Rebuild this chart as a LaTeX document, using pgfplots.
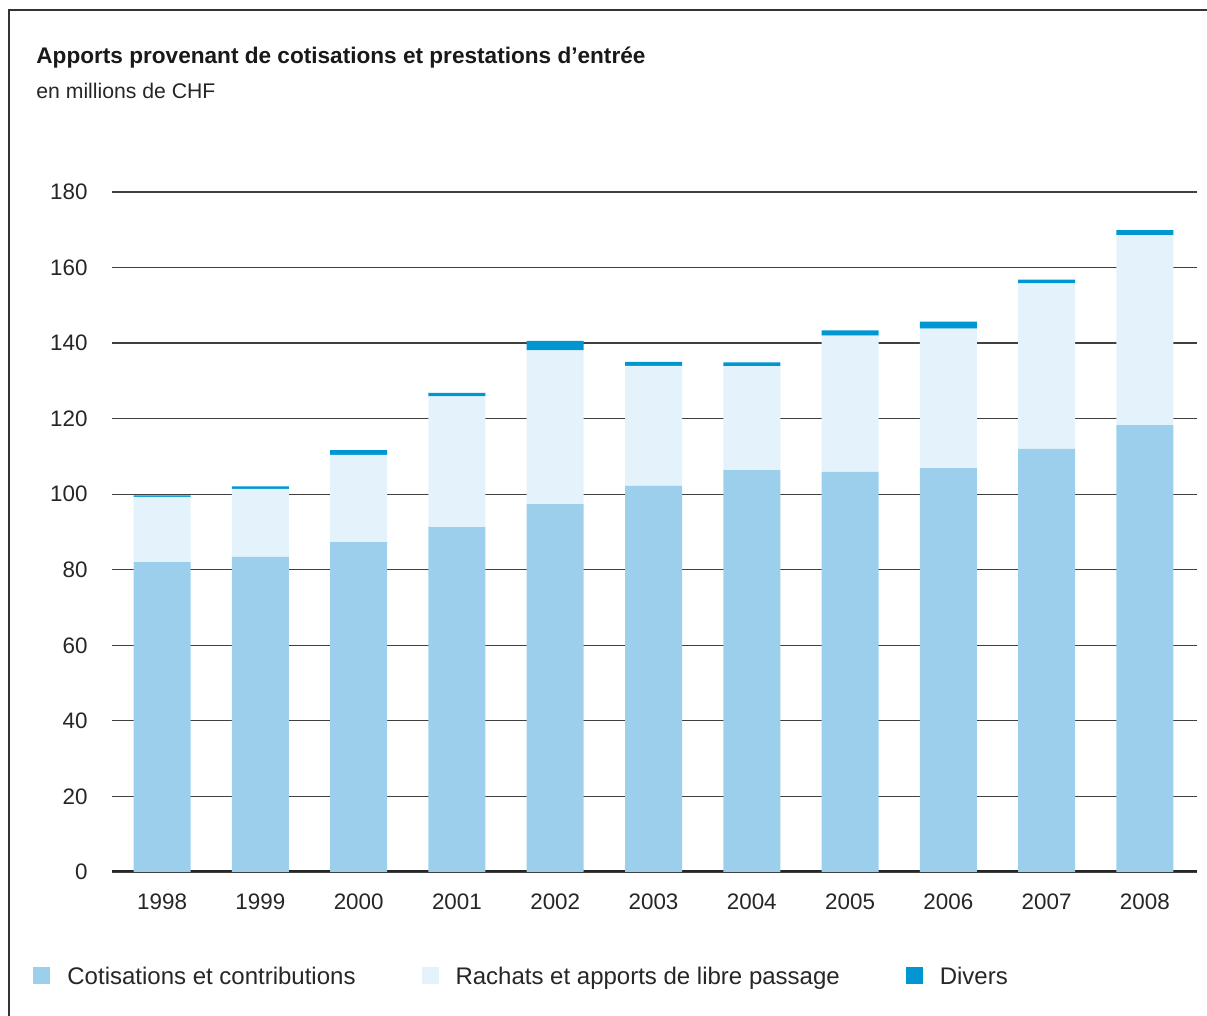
\documentclass[border=0pt]{standalone}
\usepackage{pgfplots}
\pgfplotsset{compat=1.18}
\usepackage{fontspec}
\setmainfont{Liberation Sans}
\definecolor{cot}{HTML}{9BCFEC}
\definecolor{rach}{HTML}{E4F2FB}
\definecolor{divc}{HTML}{0096D2}
\definecolor{gridc}{HTML}{404040}
\begin{document}
\begin{tikzpicture}
\useasboundingbox (0,0) rectangle (603.5pt,508pt);
\begin{axis}[
  at={(56pt,72pt)}, anchor=south west,
  scale only axis, width=542.5pt, height=340pt,
  xmin=-0.51, xmax=10.53, ymin=0, ymax=180,
  ybar stacked, bar width=28.5pt,
  xtick={0,...,10},
  xticklabels={1998,1999,2000,2001,2002,2003,2004,2005,2006,2007,2008},
  ytick={0,20,...,180},
  ymajorgrids, grid style={gridc, line width=0.6pt},
  axis line style={draw=none},
  major tick length=0pt, tick style={draw=none},
  /pgf/number format/assume math mode=true,
  tick label style={font=\fontsize{11.2}{13}\selectfont, text=black!85},
  yticklabel style={anchor=east, inner sep=0pt, xshift=-12pt},
  xticklabel style={anchor=north, inner sep=0pt, yshift=-10.5pt},
  legend columns=3,
  legend style={at={(axis description cs:-0.0728,-0.1545)}, anchor=west,
    draw=none, fill=none, inner sep=0pt,
    font=\fontsize{12}{14}\selectfont, text=black!85,
    nodes={inner sep=0pt, anchor=base west},
    /tikz/every odd column/.style={column sep=8.5pt},
    /tikz/every even column/.style={column sep=33pt}},
  legend image code/.code={\fill[#1] (0pt,0.5pt) rectangle (8.5pt,9pt);},
]
\addplot[fill=cot, draw=none] coordinates {(0,82.0) (1,83.4) (2,87.3) (3,91.3) (4,97.4) (5,102.2) (6,106.4) (7,105.9) (8,106.9) (9,112.0) (10,118.3)};
\addplot[fill=rach, draw=none] coordinates {(0,17.3) (1,18.0) (2,23.1) (3,34.6) (4,40.7) (5,31.8) (6,27.5) (7,36.1) (8,36.9) (9,43.8) (10,50.3)};
\addplot[fill=divc, draw=none] coordinates {(0,0.4) (1,0.65) (2,1.3) (3,0.9) (4,2.5) (5,1.0) (6,1.0) (7,1.4) (8,1.9) (9,1.0) (10,1.3)};
\legend{Cotisations et contributions, Rachats et apports de libre passage, Divers}
\draw[line width=1.5pt, black!85] (rel axis cs:0,0) -- (rel axis cs:1,0);
\end{axis}
\node[anchor=base west, inner sep=0pt, font=\bfseries\fontsize{11.3}{13}\selectfont, text=black!90] at (18pt,476pt) {Apports provenant de cotisations et prestations d’entrée};
\node[anchor=base west, inner sep=0pt, font=\fontsize{10.6}{13}\selectfont, text=black!85] at (18pt,458.5pt) {en millions de CHF};
\draw[line width=0.75pt, black!80] (4.5pt,0pt) -- (4.5pt,503pt) -- (603.5pt,503pt);
\end{tikzpicture}
\end{document}
